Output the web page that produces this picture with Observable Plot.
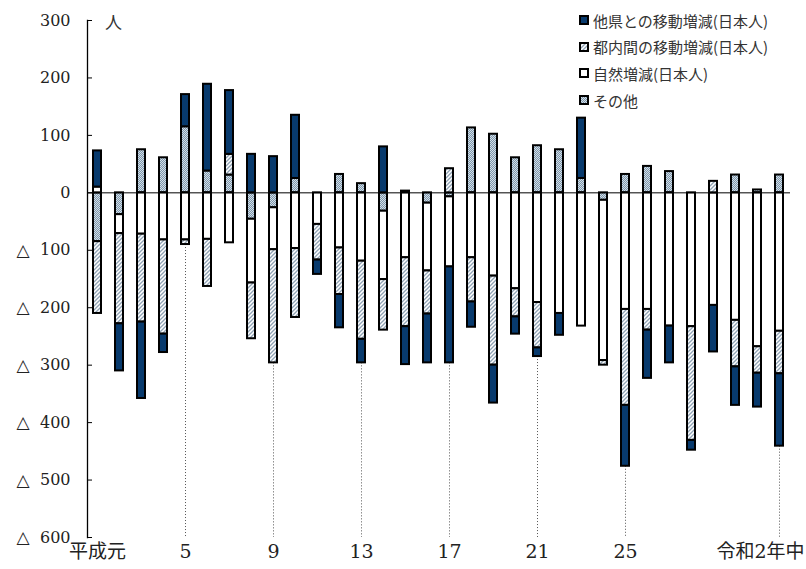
<!DOCTYPE html>
<html><head><meta charset="utf-8">
<script src="https://cdn.jsdelivr.net/npm/d3@7"></script>
<script src="https://cdn.jsdelivr.net/npm/@observablehq/plot@0.6"></script>
<style>
body{margin:0;background:#fff;}
#wrap{position:relative;width:806px;height:569px;overflow:hidden;}
#legend{position:absolute;left:579px;top:7px;font-family:"Noto Sans CJK JP",sans-serif;font-size:15px;color:#333;}
.row{display:flex;align-items:center;height:26.6px;white-space:nowrap;}
.row svg{margin-right:4px;}
#unit{position:absolute;left:105px;top:9px;font-family:"Noto Sans CJK JP",sans-serif;font-size:17px;color:#333;}
</style></head><body><div id="wrap"></div>
<script>
const categories = ["平成元年","平成2年","平成3年","平成4年","平成5年","平成6年","平成7年","平成8年","平成9年","平成10年",
  "平成11年","平成12年","平成13年","平成14年","平成15年","平成16年","平成17年","平成18年","平成19年","平成20年",
  "平成21年","平成22年","平成23年","平成24年","平成25年","平成26年","平成27年","平成28年","平成29年","平成30年",
  "令和元年","令和2年中"];
const seriesNames = ["その他","自然増減(日本人)","都内間の移動増減(日本人)","他県との移動増減(日本人)"];
const otherVals    = [-85,-38,75,61,115,38,31,-46,-26,25,0,32,16,-32,3,-18,-7,113,102,61,82,75,25,-13,32,46,37,0,0,31,5,31];
const naturalVals  = [10,-33,-72,-82,-82,-81,-87,-111,-73,-97,-55,-96,-119,-119,-113,-118,-122,-113,-145,-167,-191,-210,-232,-279,-203,-203,-232,-233,-196,-222,-268,-241];
const intraVals    = [-125,-157,-153,-164,-8,-82,36,-97,-197,-120,-62,-81,-136,-88,-120,-75,42,-77,-155,-49,-79,0,0,-8,-167,-36,0,-198,20,-81,-46,-74];
const interVals    = [63,-82,-133,-32,56,151,111,67,63,110,-25,-58,-41,80,-66,-85,-167,-44,-66,-30,-15,-38,105,0,-106,-84,-64,-17,-81,-67,-59,-126];
const tickCats   = ["平成元年","平成5年","平成9年","平成13年","平成17年","平成21年","平成25年"];
const tickLabels = ["平成元","5","9","13","17","21","25"];
const lastCat = "令和2年中";
const lastLabel = "令和2年中";
const dropCats = ["平成5年","平成9年","平成13年","平成17年","平成21年","平成25年","令和2年中"];
const yTicks = [300,200,100,0,-100,-200,-300,-400,-500,-600];
const negSign = "△";
const legendOrder = ["他県との移動増減(日本人)","都内間の移動増減(日本人)","自然増減(日本人)","その他"];
const fills = ["url(#dots)","white","url(#hatch)","#083a6d"];

const seriesVals = [otherVals, naturalVals, intraVals, interVals];
const table = [];
seriesNames.forEach((s, k) => seriesVals[k].forEach((v, i) => { if (v !== 0) table.push({cat: categories[i], series: s, value: v}); }));
const drops = dropCats.map(c => {
  const i = categories.indexOf(c);
  return {cat: c, bottom: d3.sum(seriesVals, a => Math.min(0, a[i]))};
});

const defs = () => {
  const g = d3.create("svg:defs");
  g.html(`
    <pattern id="dots" width="2" height="2" patternUnits="userSpaceOnUse">
      <rect width="2" height="2" fill="#7d97ac"/>
      <rect width="1" height="1" fill="#d3dde6"/>
      <rect x="1" y="1" width="1" height="1" fill="#d3dde6"/>
    </pattern>
    <pattern id="hatch" width="4" height="4" patternUnits="userSpaceOnUse">
      <rect width="4" height="4" fill="white"/>
      <path d="M-1,1 l2,-2 M0,4 l4,-4 M3,5 l2,-2" stroke="#8ea2b4" stroke-width="1.3"/>
    </pattern>`);
  return g.node();
};

const plot = Plot.plot({
  width: 806, height: 569,
  marginLeft: 87, marginRight: 16, marginTop: 20, marginBottom: 32,
  x: {type: "band", domain: categories, paddingInner: 0.615, paddingOuter: 0.215, axis: null},
  y: {domain: [-600, 300], axis: null},
  color: {type: "ordinal", domain: seriesNames, range: fills},
  style: {background: "white", color: "#222"},
  marks: [
    defs,
    Plot.ruleX(drops, {x: "cat", y1: "bottom", y2: -600, stroke: "#555", strokeWidth: 1, strokeDasharray: "1,2"}),
    Plot.barY(table, {x: "cat", y: "value", fill: "series", stroke: "black", strokeWidth: 2}),
    Plot.ruleY([0], {stroke: "black", strokeWidth: 1}),
    Plot.frame({anchor: "left", stroke: "black", strokeWidth: 1.3}),
    Plot.axisY(yTicks, {tickSize: 0, tickPadding: 17, tickFormat: d => String(Math.abs(d)), fontFamily: "DejaVu Serif", fontSize: 16, label: null}),
    Plot.axisY(yTicks.filter(d => d < 0), {tickSize: 0, tickPadding: 58, tickFormat: () => negSign, fontFamily: "DejaVu Sans", fontSize: 17, label: null}),
    Plot.axisY(yTicks, {tickSize: 5, dx: 5, fill: "none", stroke: "black", label: null}),
    Plot.text(tickCats, {x: d => d, text: (d, i) => tickLabels[i], frameAnchor: "bottom", dy: 20, fontFamily: "DejaVu Serif, Noto Sans CJK JP", fontSize: 19}),
    Plot.text([lastCat], {x: d => d, text: () => lastLabel, frameAnchor: "bottom", dy: 20, dx: 25, textAnchor: "end", fontFamily: "DejaVu Serif, Noto Sans CJK JP", fontSize: 19})
  ]
});

const wrap = document.getElementById("wrap");
wrap.appendChild(plot);

const unit = document.createElement("div");
unit.id = "unit"; unit.textContent = "人";
wrap.appendChild(unit);

const legend = d3.select(wrap).append("div").attr("id", "legend");
legendOrder.forEach(name => {
  const row = legend.append("div").attr("class", "row");
  const f = fills[seriesNames.indexOf(name)];
  row.append("svg").attr("width", 10).attr("height", 10)
    .append("rect").attr("x", 1).attr("y", 1).attr("width", 8).attr("height", 8)
    .attr("fill", f).attr("stroke", "black").attr("stroke-width", 2);
  row.append("span").text(name);
});
</script></body></html>
